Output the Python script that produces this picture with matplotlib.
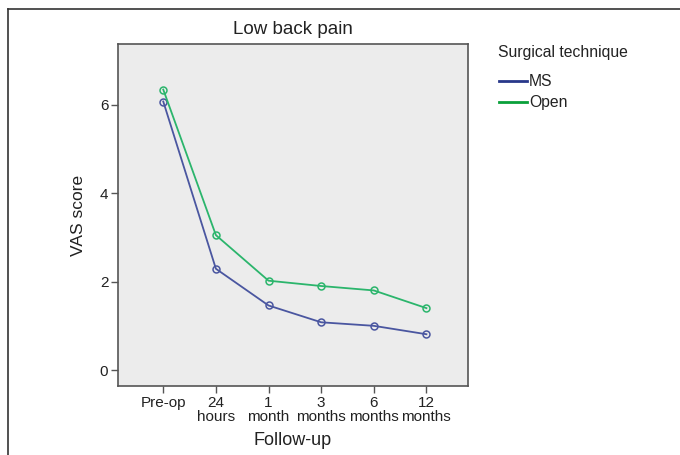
import matplotlib
matplotlib.use("Agg")
import matplotlib.pyplot as plt
from matplotlib.lines import Line2D

plt.rcParams["font.family"] = ["Liberation Sans", "DejaVu Sans"]

FOLLOW_UP = ["Pre-op", "24\nhours", "1\nmonth", "3\nmonths", "6\nmonths", "12\nmonths"]
MS_VAS = [6.07, 2.29, 1.46, 1.08, 1.00, 0.81]
OPEN_VAS = [6.34, 3.05, 2.02, 1.90, 1.80, 1.40]
Y_TICKS = [0, 2, 4, 6]

W, H = 680, 455
fig = plt.figure(figsize=(W / 100, H / 100), dpi=100)

# axes box in pixel coords: x 118..468, y 44..386
ax = fig.add_axes([118 / W, 1 - 386 / H, 350 / W, 342 / H])
ax.set_facecolor("#ececec")

x = list(range(len(FOLLOW_UP)))
ax.plot(x, MS_VAS, color="#4a56a0", lw=1.3, marker="o", ms=5,
        mfc="none", mec="#4a56a0", mew=1.1)
ax.plot(x, OPEN_VAS, color="#2bb56c", lw=1.3, marker="o", ms=5,
        mfc="none", mec="#2bb56c", mew=1.1)

ax.set_xlim(-0.86, 5.79)
ax.set_ylim(-0.36, 7.37)
ax.set_xticks(x)
ax.set_xticklabels(FOLLOW_UP, fontsize=11, linespacing=1.0)
ax.set_yticks(Y_TICKS)
ax.set_yticklabels([str(v) for v in Y_TICKS], fontsize=11)
ax.tick_params(direction="out", length=5, width=1, color="#555555",
               labelcolor="#222222", pad=2)

for s in ax.spines.values():
    s.set_color("#555555")
    s.set_linewidth(1.2)

ax.set_xlabel("Follow-up", fontsize=13, color="#222222", labelpad=6)
ax.set_ylabel("VAS score", fontsize=12.5, color="#222222", labelpad=10)
fig.text(293 / W, 1 - 30 / H, "Low back pain", fontsize=13.5,
         ha="center", va="center", color="#222222")

# legend drawn by hand to match SPSS layout
fig.text(498 / W, 1 - 52 / H, "Surgical technique", fontsize=11.3,
         ha="left", va="center", color="#222222")
leg = [("MS", "#28388a", 81), ("Open", "#0aa03a", 102)]
for label, col, yy in leg:
    fig.add_artist(Line2D([499 / W, 527 / W], [1 - yy / H, 1 - yy / H],
                          color=col, lw=2, transform=fig.transFigure))
    fig.text(529 / W, 1 - yy / H, label, fontsize=11.3,
             ha="left", va="center", color="#222222")

# outer frame (top and left only)
fig.add_artist(Line2D([8 / W, 1], [1 - 9 / H, 1 - 9 / H], color="#333333",
                      lw=1.2, transform=fig.transFigure))
fig.add_artist(Line2D([8 / W, 8 / W], [0, 1 - 9 / H], color="#333333",
                      lw=1.2, transform=fig.transFigure))

fig.savefig("out.png", dpi=100)
